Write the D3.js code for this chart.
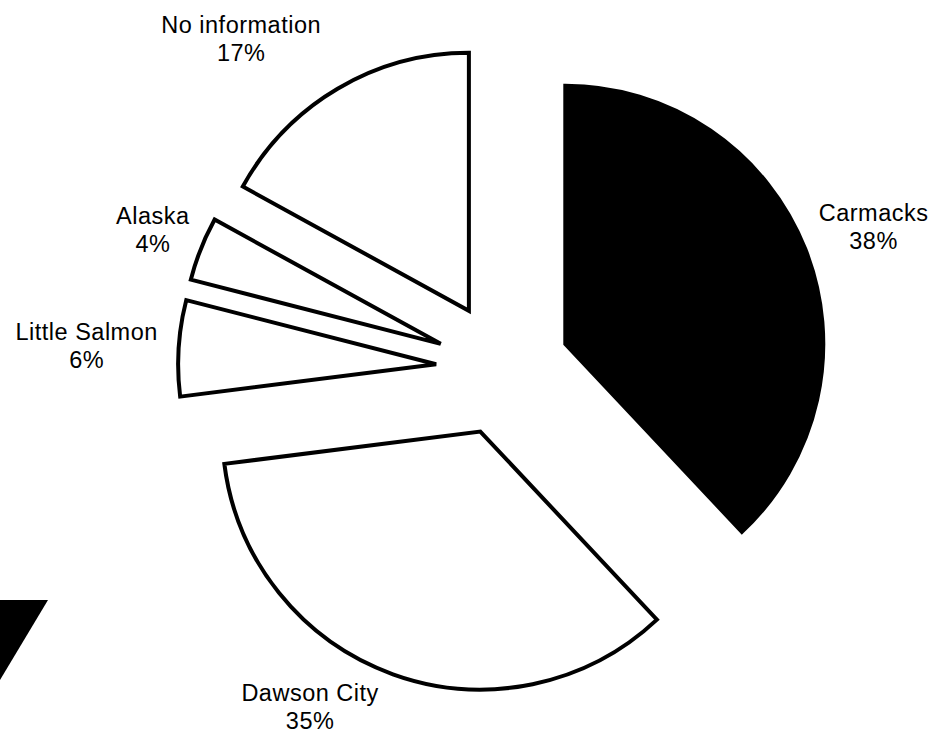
<!DOCTYPE html>
<html>
<head>
<meta charset="utf-8">
<script src="https://cdn.jsdelivr.net/npm/d3@7/dist/d3.min.js"></script>
<style>
  html, body { margin: 0; padding: 0; background: #fff; }
  svg { display: block; }
  text { font-family: "Liberation Sans", Arial, Helvetica, sans-serif; fill: #000; }
</style>
</head>
<body>
<svg id="chart" width="951" height="747"></svg>
<script>
// Place of origin shares (percent), clockwise from 12 o'clock
const categories = ["Carmacks", "Dawson City", "Little Salmon", "Alaska", "No information"];
const shares = [38, 35, 6, 4, 17];
const fills = ["#000", "#fff", "#fff", "#fff", "#fff"];

// Layout
const width = 951, height = 747;
const cx = 503, cy = 368.5;      // pie centre before exploding
const radius = 258;
const explode = 67;               // every slice pushed out along its mid-angle
// label distance from the slice apex and angular nudge (degrees) from the mid-angle
const labelPlacement = {
  "Carmacks":       { dist: 330, turn: 0.7 },
  "Dawson City":    { dist: 323, turn: 12 },
  "Little Salmon":  { dist: 350, turn: -0.4 },
  "Alaska":         { dist: 310, turn: 0.2 },
  "No information": { dist: 355, turn: -9.3 }
};

const svg = d3.select("#chart");

const data = categories.map((c, i) => ({ name: c, value: shares[i], fill: fills[i] }));

const pie = d3.pie().value(d => d.value).sort(null).startAngle(0).endAngle(2 * Math.PI);
const arc = d3.arc().innerRadius(0).outerRadius(radius);
const arcs = pie(data);

const polar = (r, a) => [r * Math.sin(a), -r * Math.cos(a)];

const slices = svg.append("g").attr("class", "slices");
arcs.forEach(a => {
  const mid = (a.startAngle + a.endAngle) / 2;
  const [ox, oy] = polar(explode, mid);
  a.apex = [cx + ox, cy + oy];
  a.mid = mid;
  slices.append("path")
    .attr("d", arc(a))
    .attr("transform", `translate(${a.apex[0]},${a.apex[1]})`)
    .attr("fill", a.data.fill)
    .attr("stroke", "#000")
    .attr("stroke-width", 4)
    .attr("stroke-linejoin", "miter");
});

// Slice labels: name on the first line, percentage below
const fmt = d3.format(".0f");
const labels = svg.append("g").attr("class", "labels");
arcs.forEach(a => {
  const p = labelPlacement[a.data.name];
  const ang = a.mid + p.turn * Math.PI / 180;
  const [lx, ly] = polar(p.dist, ang);
  const x = a.apex[0] + lx, y = a.apex[1] + ly;
  const t = labels.append("text")
    .attr("text-anchor", "middle")
    .attr("font-size", 23.5)
    .attr("letter-spacing", 0.5);
  t.append("tspan").attr("x", x).attr("y", y - 5).text(a.data.name);
  t.append("tspan").attr("x", x).attr("y", y + 23).text(fmt(a.data.value) + "%");
});

// Dark wedge fragment at the lower-left edge
svg.append("path")
  .attr("d", d3.line()([[0, 600], [48, 600], [0, 680]]))
  .attr("fill", "#000");
</script>
</body>
</html>
